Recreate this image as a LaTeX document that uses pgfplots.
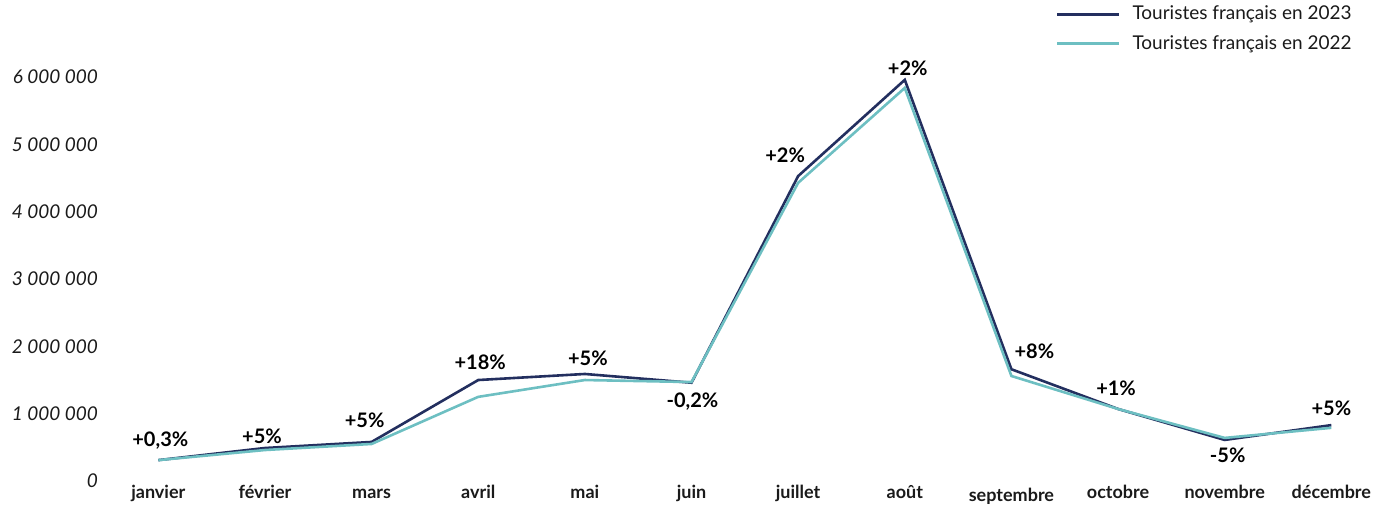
\documentclass[border=0pt]{standalone}
\usepackage{pgfplots}
\pgfplotsset{compat=1.18}
\usepackage{pgfplotstable}
\usepackage{fontspec}
\setmainfont{Lato}
\definecolor{navy}{HTML}{232F5F}
\definecolor{tealc}{HTML}{6DBFC2}
\definecolor{txt}{HTML}{1A1A1A}

\pgfplotstableread{
x y dx dy lab
0 310000 1 10 +0,3\%
1 490000 -1.5 6 +5\%
2 580000 -3.5 11 +5\%
3 1500000 1 9 +18\%
4 1590000 1.5 8 +5\%
5 1460000 0.5 -9.5 -0,2\%
6 4530000 -6.5 10.5 +2\%
7 5960000 1.5 6 +2\%
8 1660000 11.5 9 +8\%
9 1070000 -1 10.5 +1\%
10 610000 1.5 -7.5 -5\%
11 830000 0 8.5 +5\%
}\dataA

\pgfplotstableread{
x y
0 310000
1 460000
2 550000
3 1250000
4 1500000
5 1470000
6 4430000
7 5840000
8 1560000
9 1070000
10 640000
11 790000
}\dataB

\begin{document}
\begin{tikzpicture}
\begin{axis}[
  scale only axis,
  width=634.5pt, height=218.75pt,
  xmin=-0.5, xmax=11.4,
  ymin=0, ymax=6500000,
  clip=false,
  axis line style={draw=none},
  major tick length=0pt,
  scaled y ticks=false,
  xtick={0,...,11},
  xticklabels={janvier,février,mars,avril,mai,juin,juillet,août,\raisebox{-1.5pt}{septembre},octobre,novembre,décembre},
  xticklabel style={font=\fontsize{9}{10}\selectfont\bfseries, text=txt, yshift=2pt,
    text height=7pt, text depth=2pt},
  ytick={0,1000000,2000000,3000000,4000000,5000000,6000000},
  yticklabels={0\hspace{6pt},1 000 000,2 000 000,3 000 000,4 000 000,5 000 000,6 000 000},
  yticklabel style={font=\fontsize{9.5}{11}\selectfont\itshape, text=txt},
  legend style={at={(1,1)}, anchor=north east, xshift=-6pt, yshift=23pt,
    draw=none, fill=none, font=\fontsize{9.5}{11.5}\selectfont, text=txt,
    row sep=2.3pt, cells={anchor=west},
    /tikz/every odd column/.append style={column sep=4pt}},
  legend cell align=left,
  legend image code/.code={\draw[#1] (0pt,0pt) -- (31pt,0pt);},
]
\addplot[color=navy, line width=1.3pt,
  nodes near coords, point meta=explicit symbolic,
  visualization depends on={\thisrow{dx} \as \dx},
  visualization depends on={\thisrow{dy} \as \dy},
  every node near coord/.append style={anchor=center, xshift=\dx*1pt, yshift=\dy*1pt,
    font=\fontsize{10}{12}\selectfont\bfseries, text=black}]
  table[x=x, y=y, meta=lab] {\dataA};
\addlegendentry{Touristes français en 2023}
\addplot[color=tealc, line width=1.3pt] table[x=x, y=y] {\dataB};
\addlegendentry{Touristes français en 2022}
\end{axis}
\pgfresetboundingbox
\path (-52.5pt,-18.5pt) rectangle (639pt,240.5pt);
\end{tikzpicture}
\end{document}
